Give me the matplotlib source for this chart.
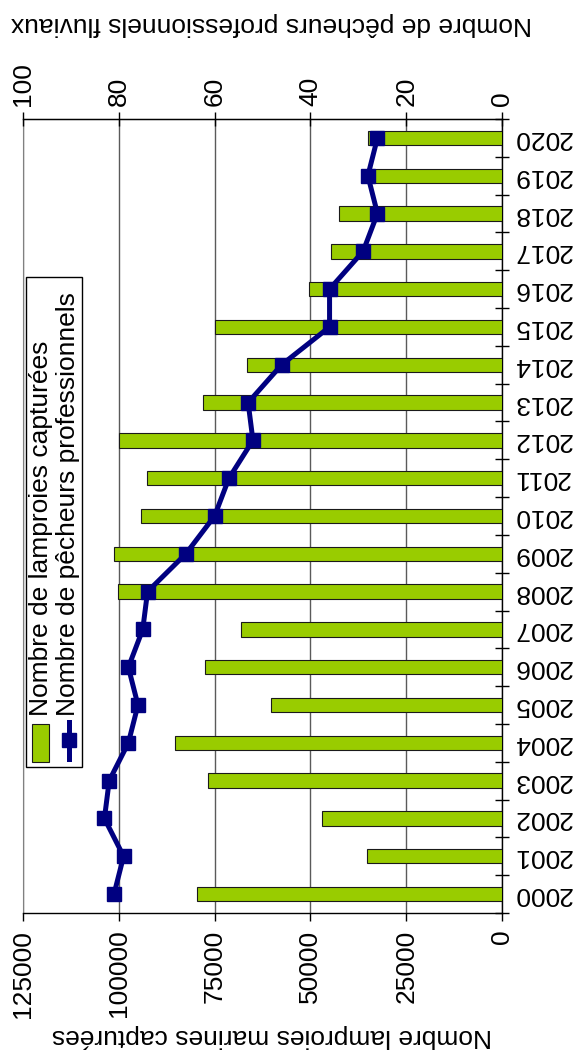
# -*- coding: utf-8 -*-
"""
Lamproies marines capturées et pêcheurs professionnels fluviaux (graphique pivoté)
"""

import matplotlib
matplotlib.use('Agg')
import matplotlib.pyplot as plt
from matplotlib.patches import Rectangle
from matplotlib.lines import Line2D

plt.rcParams['font.family'] = ['Liberation Sans', 'DejaVu Sans']

years = [2000, 2001, 2002, 2003, 2004, 2005, 2006, 2007, 2008, 2009, 2010,
         2011, 2012, 2013, 2014, 2015, 2016, 2017, 2018, 2019, 2020]
lamproies = [79600, 35100, 47100, 76600, 85400, 60400, 77500, 68200, 100300,
             101200, 94100, 92600, 100000, 77900, 66600, 74900, 50300, 44500,
             42600, 34000, 34900]
pecheurs = [81, 79, 83, 82, 78, 76, 78, 75, 74, 66, 60,
            57, 52, 53, 46, 36, 36, 29, 26, 28, 26]

lamp_ticks = [0, 25000, 50000, 75000, 100000, 125000]
fish_ticks = [0, 20, 40, 60, 80, 100]

W, H = 575, 1057
FS = 19


def fx(x):
    return x / W


def fy(y):
    return 1 - y / H


fig = plt.figure(figsize=(W / 100, H / 100), dpi=100)
ax = fig.add_axes([fx(23), fy(913), fx(502) - fx(23), fy(119) - fy(913)])

pos = list(range(len(years)))
ax.barh(pos, lamproies, height=0.38, color='#99CC00', edgecolor='#1a1a1a',
        linewidth=0.8, zorder=3)
ax.set_xlim(125000, 0)
ax.set_ylim(-0.5, len(years) - 0.5)
ax.set_xticks(lamp_ticks)
ax.set_xticklabels([str(t) for t in lamp_ticks], rotation=90, fontsize=FS)
ax.tick_params(axis='x', direction='out', length=6, width=1, pad=6)
ax.grid(axis='x', color='#5a5a5a', linewidth=1, zorder=0)

ax.yaxis.tick_right()
ax.set_yticks(pos)
ax.set_yticklabels([str(y) for y in years], rotation=180, fontsize=FS,
                   va='center')
ax.set_yticks([p - 0.5 for p in pos] + [len(years) - 0.5], minor=True)
ax.tick_params(axis='y', which='major', length=0, pad=8)
ax.tick_params(axis='y', which='minor', direction='inout', length=10, width=1)
ax.spines['left'].set_color('#808080')
for s in ['right', 'top', 'bottom']:
    ax.spines[s].set_linewidth(1)

ax2 = ax.twiny()
ax2.plot(pecheurs, pos, color='#000080', linewidth=3.6, marker='s',
         markersize=10.5, zorder=4)
ax2.set_xlim(100, 0)
ax2.set_xticks(fish_ticks)
ax2.set_xticklabels([str(t) for t in fish_ticks], rotation=90, fontsize=FS)
ax2.tick_params(axis='x', direction='inout', length=10, width=1, pad=4)
for s in ['left', 'right', 'bottom']:
    ax2.spines[s].set_visible(False)

# axis titles
fig.text(fx(271), fy(24), 'Nombre de pêcheurs professionnels fluviaux',
         rotation=180, ha='center', va='center', fontsize=FS)
fig.text(fx(272), fy(1036), 'Nombre lamproies marines capturées',
         rotation=180, ha='center', va='center', fontsize=FS)

# legend (drawn by hand, the text is vertical)
fig.add_artist(Rectangle((fx(26), fy(767)), fx(82) - fx(26), fy(277) - fy(767),
                         transform=fig.transFigure, facecolor='white',
                         edgecolor='black', linewidth=1, zorder=5))
fig.add_artist(Rectangle((fx(32), fy(762)), fx(49) - fx(32), fy(724) - fy(762),
                         transform=fig.transFigure, facecolor='#99CC00',
                         edgecolor='#1a1a1a', linewidth=0.8, zorder=6))
fig.add_artist(Line2D([fx(68.5), fx(68.5)], [fy(759), fy(722)],
                      transform=fig.transFigure, color='#000080',
                      linewidth=3.6, zorder=6))
fig.add_artist(Line2D([fx(68.5)], [fy(740)], transform=fig.transFigure,
                      color='#000080', marker='s', markersize=10.5, zorder=7))
t1 = fig.text(fx(41), fy(716), 'Nombre de lamproies capturées', rotation=90,
              ha='center', va='bottom', fontsize=FS)
t2 = fig.text(fx(68), fy(716), 'Nombre de pêcheurs professionnels',
              rotation=90, ha='center', va='bottom', fontsize=FS)
t1.set_zorder(8)
t2.set_zorder(8)

plt.savefig('out.png', dpi=100)
